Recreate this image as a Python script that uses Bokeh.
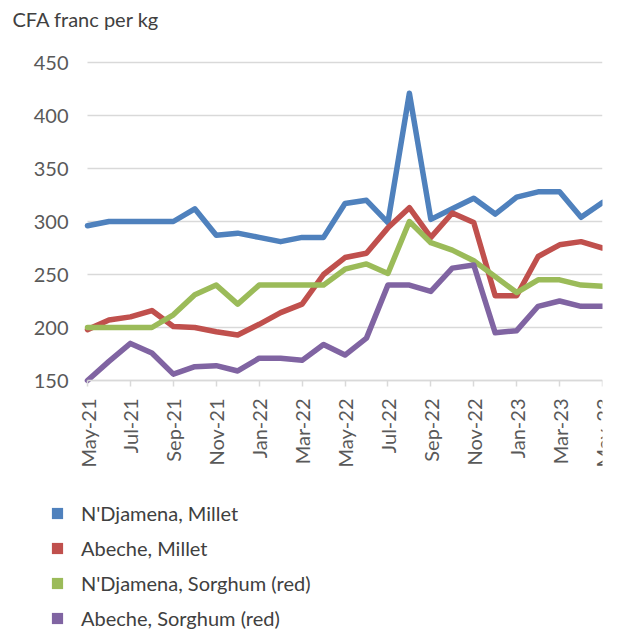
import math
from bokeh.plotting import figure
from bokeh.layouts import column
from bokeh.models import FixedTicker, Legend, LegendItem, Range1d, Title
from bokeh.embed import file_html
from bokeh.resources import INLINE

months = ["May-21", "Jun-21", "Jul-21", "Aug-21", "Sep-21", "Oct-21", "Nov-21",
          "Dec-21", "Jan-22", "Feb-22", "Mar-22", "Apr-22", "May-22", "Jun-22",
          "Jul-22", "Aug-22", "Sep-22", "Oct-22", "Nov-22", "Dec-22", "Jan-23",
          "Feb-23", "Mar-23", "Apr-23", "May-23"]

ndjamena_millet = [296, 300, 300, 300, 300, 312, 287, 289, 285, 281, 285, 285, 317,
                   320, 299, 421, 302, 312, 322, 307, 323, 328, 328, 304, 318]
abeche_millet = [198, 207, 210, 216, 201, 200, 196, 193, 203, 214, 222, 250, 266,
                 270, 294, 313, 285, 308, 299, 230, 230, 267, 278, 281, 275]
ndjamena_sorghum = [200, 200, 200, 200, 212, 231, 240, 222, 240, 240, 240, 240, 255,
                    260, 251, 300, 280, 273, 263, 248, 233, 245, 245, 240, 239]
abeche_sorghum = [150, 168, 185, 176, 156, 163, 164, 159, 171, 171, 169, 184, 174,
                  190, 240, 240, 234, 256, 259, 195, 197, 220, 225, 220, 220]

series_names = ["N'Djamena, Millet", "Abeche, Millet",
                "N'Djamena, Sorghum (red)", "Abeche, Sorghum (red)"]
series_values = [ndjamena_millet, abeche_millet, ndjamena_sorghum, abeche_sorghum]
colors = ["#4F81BD", "#C0504D", "#9BBB59", "#8064A2"]
y_ticks = [150, 200, 250, 300, 350, 400, 450]
y_title = "CFA franc per kg"

FONT = "Lato"

# layout geometry (pixels)
P_HEIGHT = 480
FRAME_LEFT = 30        # shared left edge of chart frame and legend strip
FRAME_TOP = 45
PLOT_LEFT = 87         # where the first month sits
PLOT_RIGHT = 602       # where the last month sits
PLOT_TOP = 62          # where 450 sits
PLOT_BOTTOM = 380      # where 150 sits
LEGEND_LEFT = 50       # left edge of legend swatches

n_last = len(months) - 1
y_lo, y_hi = y_ticks[0], y_ticks[-1]
x_start = -(PLOT_LEFT - FRAME_LEFT) * n_last / (PLOT_RIGHT - PLOT_LEFT)
upp = (y_hi - y_lo) / (PLOT_BOTTOM - PLOT_TOP)
y_end = y_hi + (PLOT_TOP - FRAME_TOP) * upp
y_start = y_lo - (P_HEIGHT - PLOT_BOTTOM) * upp

p = figure(width=624, height=P_HEIGHT, output_backend="svg", toolbar_location=None,
           x_range=Range1d(x_start, n_last), y_range=Range1d(y_start, y_end),
           min_border_left=FRAME_LEFT, min_border_right=624 - PLOT_RIGHT,
           min_border_top=FRAME_TOP, min_border_bottom=0)
p.outline_line_color = None
p.background_fill_color = "white"

# title: a small spacer title next to the frame pushes the real title upward
p.add_layout(Title(text=" ", text_font_size="10px", standoff=2), "above")
p.add_layout(Title(text=y_title, align="left", offset=-(FRAME_LEFT - 12), standoff=0,
                   text_font=FONT, text_font_size="20px", text_font_style="normal",
                   text_color="#404040"), "above")

x = list(range(len(months)))

# horizontal gridlines spanning only the months
p.xgrid.grid_line_color = None
p.ygrid.grid_line_color = None
p.segment(x0=[0] * len(y_ticks), y0=y_ticks, x1=[n_last] * len(y_ticks), y1=y_ticks,
          line_color="#d9d9d9", line_width=1.5)

for vals, col in zip(series_values, colors):
    p.line(x, vals, line_color=col, line_width=5.5, line_join="round", line_cap="round")

# y axis drawn at the first month
p.yaxis.fixed_location = 0
p.yaxis.bounds = (y_lo, y_hi)
p.yaxis.ticker = FixedTicker(ticks=y_ticks)
p.yaxis.axis_line_color = None
p.yaxis.major_tick_line_color = None
p.yaxis.minor_tick_line_color = None
p.yaxis.major_label_standoff = 13
p.yaxis.major_label_text_font = FONT
p.yaxis.major_label_text_font_size = "20px"
p.yaxis.major_label_text_color = "#595959"

# x axis drawn at the bottom value
p.xaxis.fixed_location = y_lo
p.xaxis.bounds = (0, n_last)
p.xaxis.ticker = FixedTicker(ticks=x[::2])
p.xaxis.major_label_overrides = {i: months[i] for i in x}
p.xaxis.major_label_orientation = math.pi / 2
p.xaxis.axis_line_color = "#d9d9d9"
p.xaxis.axis_line_width = 1.5
p.xaxis.major_tick_line_color = "#d9d9d9"
p.xaxis.major_tick_line_width = 1.5
p.xaxis.major_tick_out = 6
p.xaxis.major_tick_in = 0
p.xaxis.minor_tick_line_color = None
p.xaxis.major_label_standoff = 12
p.xaxis.major_label_text_font = FONT
p.xaxis.major_label_text_font_size = "20px"
p.xaxis.major_label_text_color = "#595959"

# legend in its own strip below the chart
lg = figure(width=624, height=150, output_backend="svg", toolbar_location=None,
            x_range=Range1d(0, 1), y_range=Range1d(0, 1),
            x_axis_location=None, y_axis_location=None,
            min_border=0, min_border_left=FRAME_LEFT, min_border_right=0,
            min_border_top=0, min_border_bottom=0)
lg.grid.visible = False
lg.outline_line_color = None

items = []
for name, col in zip(series_names, colors):
    r = lg.quad(left=[-3], right=[-2], top=[-2], bottom=[-3],
                fill_color=col, line_color=None)
    items.append(LegendItem(label=name, renderers=[r]))
legend = Legend(items=items, location=(LEGEND_LEFT - FRAME_LEFT, 0),
                orientation="vertical",
                glyph_width=14, glyph_height=14, label_height=20, spacing=11,
                padding=0, margin=0, label_standoff=17,
                border_line_color=None, background_fill_alpha=0,
                label_text_font=FONT, label_text_font_size="20px",
                label_text_color="#404040")
lg.add_layout(legend)

layout = column(p, lg, spacing=0)
open("out.html", "w").write(file_html(layout, INLINE))
